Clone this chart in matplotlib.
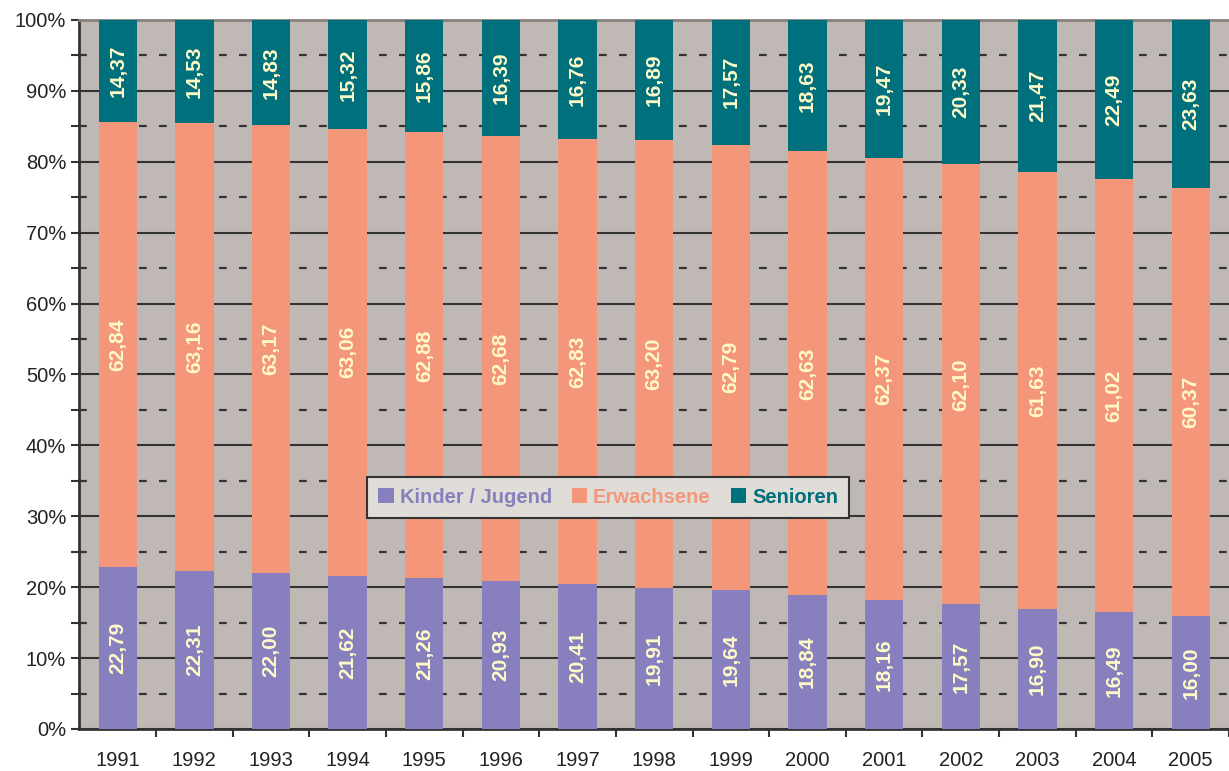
import matplotlib.pyplot as plt
import numpy as np
from matplotlib.ticker import MultipleLocator, FuncFormatter

# Daten
jahre = ['1991', '1992', '1993', '1994', '1995', '1996', '1997', '1998',
         '1999', '2000', '2001', '2002', '2003', '2004', '2005']
kinder = [22.79, 22.31, 22.00, 21.62, 21.26, 20.93, 20.41, 19.91,
          19.64, 18.84, 18.16, 17.57, 16.90, 16.49, 16.00]
erwachsene = [62.84, 63.16, 63.17, 63.06, 62.88, 62.68, 62.83, 63.20,
              62.79, 62.63, 62.37, 62.10, 61.63, 61.02, 60.37]
senioren = [14.37, 14.53, 14.83, 15.32, 15.86, 16.39, 16.76, 16.89,
            17.57, 18.63, 19.47, 20.33, 21.47, 22.49, 23.63]

serien = [('Kinder / Jugend', kinder, '#8880be'),
          ('Erwachsene', erwachsene, '#f4967a'),
          ('Senioren', senioren, '#00707c')]

plt.rcParams['font.family'] = ['Liberation Sans', 'DejaVu Sans']

fig = plt.figure(figsize=(12.29, 7.71), dpi=100)
ax = fig.add_axes([0.0646, 0.0545, 0.9354, 0.9196])
ax.set_facecolor('#c0b8b4')

x = np.arange(len(jahre))
unten = np.zeros(len(jahre))
for name, werte, farbe in serien:
    werte = np.array(werte)
    ax.bar(x, werte, width=0.5, bottom=unten, color=farbe, label=name, zorder=3)
    for xi, b, v in zip(x, unten, werte):
        ax.text(xi, b + v / 2, f'{v:.2f}'.replace('.', ','), rotation=90,
                ha='center', va='center', color='#fffac8',
                fontsize=15, fontweight='bold', zorder=4)
    unten = unten + werte

ax.set_xlim(-0.5, 14.39)
ax.set_ylim(0, 100)

ax.yaxis.set_major_locator(MultipleLocator(10))
ax.yaxis.set_minor_locator(MultipleLocator(5))
ax.yaxis.set_major_formatter(FuncFormatter(lambda v, p: f'{v:.0f}%'))
ax.grid(which='major', axis='y', color='#333333', lw=1.5, zorder=1)
ax.grid(which='minor', axis='y', color='#333333', lw=1.6,
        linestyle=(0, (3.5, 5.5)), zorder=1)

ax.set_xticks(x)
ax.set_xticklabels(jahre)
ax.set_xticks(np.arange(len(jahre)) + 0.5, minor=True)
ax.tick_params(axis='x', which='major', length=0, pad=16, labelsize=14.5, colors='#222222')
ax.tick_params(axis='x', which='minor', length=6, width=1.5, color='#333333')
ax.tick_params(axis='y', which='both', length=6, width=1.5, color='#333333',
               labelsize=14.5, labelcolor='#222222')

for s in ['left', 'bottom']:
    ax.spines[s].set_color('#333333')
    ax.spines[s].set_linewidth(2)
ax.spines['top'].set_color('#8a807c')
ax.spines['top'].set_linewidth(2)
ax.spines['right'].set_visible(False)

leg = ax.legend(ncol=3, loc='center', bbox_to_anchor=(0.46, 0.327),
                frameon=True, fancybox=False, handlelength=0.75, handleheight=0.75,
                handletextpad=0.3, columnspacing=1.0, borderpad=0.55,
                prop={'weight': 'bold', 'size': 14.5})
leg.get_frame().set_facecolor('#e0dcd8')
leg.get_frame().set_edgecolor('#333333')
leg.get_frame().set_linewidth(1.5)
leg.get_frame().set_alpha(1)
leg.set_zorder(5)
for t, (_, _, farbe) in zip(leg.get_texts(), serien):
    t.set_color(farbe)

fig.savefig('out.png', dpi=100)
